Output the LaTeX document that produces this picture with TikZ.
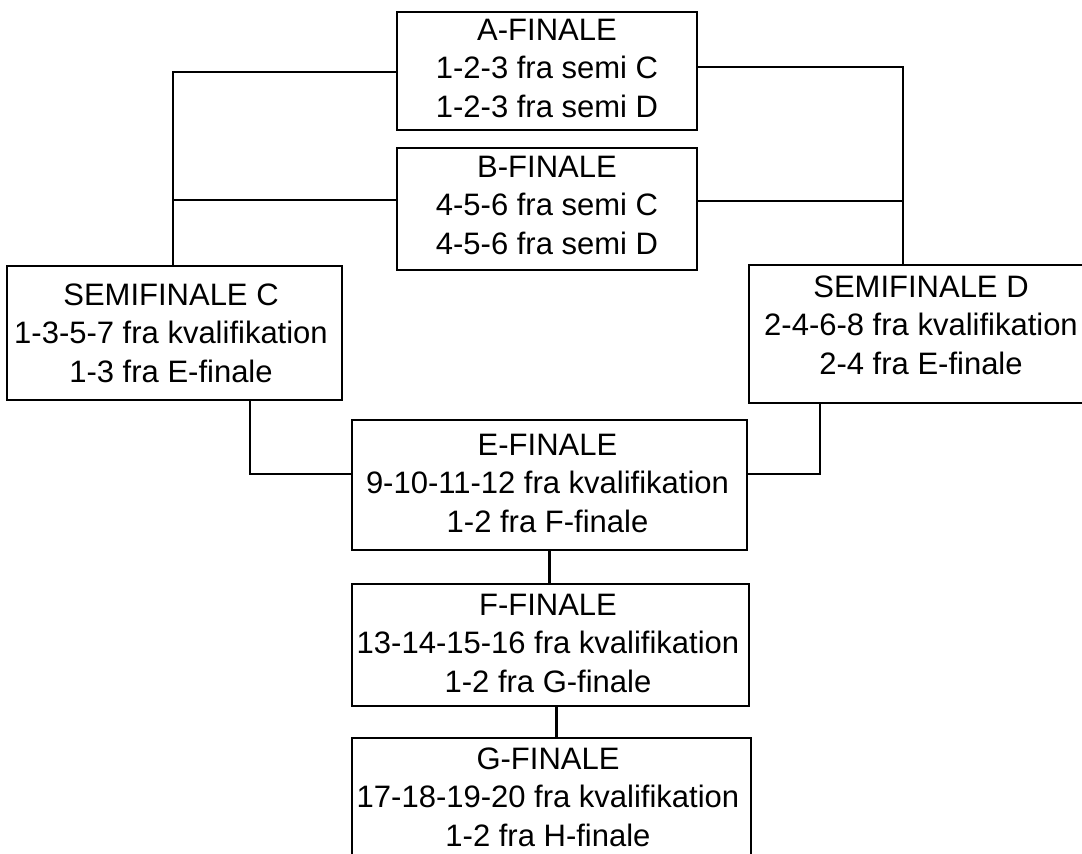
\documentclass[tikz,border=0pt]{standalone}
\usepackage{fontspec}
\setmainfont{Liberation Sans}
\begin{document}
\begin{tikzpicture}[x=1pt,y=-1pt,
  box/.style={draw=black, line width=2.6pt, rectangle, inner sep=0pt, fill=none},
  txt/.style={align=center, inner sep=0pt, font=\fontsize{31}{38.5}\selectfont},
  wire/.style={draw=black, line width=2.6pt}]
\useasboundingbox (0,0) rectangle (1082,854);
\clip (0,0) rectangle (1082,854);
% boxes
\node[box, minimum width=300pt, minimum height=118pt] (A) at (547,71) {};
\node[box, minimum width=300pt, minimum height=122pt] (B) at (547,209) {};
\node[box, minimum width=335pt, minimum height=134pt] (C) at (174.5,333) {};
\node[box, minimum width=341pt, minimum height=138pt] (D) at (919.5,334) {};
\node[box, minimum width=395pt, minimum height=130pt] (E) at (549.5,485) {};
\node[box, minimum width=397pt, minimum height=122pt] (F) at (550.5,645) {};
\node[box, minimum width=399pt, minimum height=132pt] (G) at (551.5,804) {};
% texts
\node[txt] (tA) at (547,68) {A-FINALE\\1-2-3 fra semi C\\1-2-3 fra semi D};
\node[txt] (tB) at (547,205) {B-FINALE\\4-5-6 fra semi C\\4-5-6 fra semi D};
\node[txt] (tC) at (171,333) {SEMIFINALE C\\1-3-5-7 fra kvalifikation\\1-3 fra E-finale};
\node[txt] (tD) at (921,325) {SEMIFINALE D\\2-4-6-8 fra kvalifikation\\2-4 fra E-finale};
\node[txt] (tE) at (547.5,483) {E-FINALE\\9-10-11-12 fra kvalifikation\\1-2 fra F-finale};
\node[txt] (tF) at (548,643) {F-FINALE\\13-14-15-16 fra kvalifikation\\1-2 fra G-finale};
\node[txt] (tG) at (548,797) {G-FINALE\\17-18-19-20 fra kvalifikation\\1-2 fra H-finale};
% connection points
\coordinate (ar) at ([yshift=4pt]A.east);
\coordinate (bl) at ([yshift=9pt]B.west);
\coordinate (br) at ([yshift=8pt]B.east);
\coordinate (ctop) at ([xshift=-1.5pt]C.north);
\coordinate (dtop) at ([xshift=-16.5pt]D.north);
\coordinate (cbot) at ([xshift=75.5pt]C.south);
\coordinate (dbot) at ([xshift=-99.5pt]D.south);
\coordinate (el) at ([yshift=11pt]E.west);
\coordinate (er) at ([yshift=11pt]E.east);
\coordinate (fb) at ([xshift=6pt]F.south);
% connectors
\draw[wire] ([yshift=-1pt]A.west) -| (ctop);
\draw[wire] (bl) -- (bl -| ctop);
\draw[wire] (ar) -| (dtop);
\draw[wire] (br) -- (br -| dtop);
\draw[wire] (cbot) |- (el);
\draw[wire] (dbot) |- (er);
\draw[wire] (E.south) -- (E.south |- F.north);
\draw[wire] (fb) -- (fb |- G.north);
\end{tikzpicture}
\end{document}
